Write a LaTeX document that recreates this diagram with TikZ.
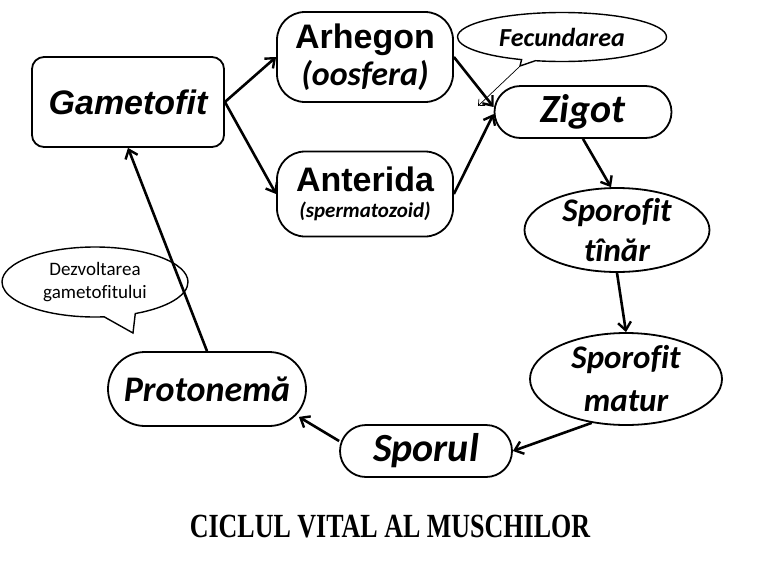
\documentclass[tikz,border=0pt]{standalone}
\usepackage{graphicx}
\usepackage{fontspec}
\setmainfont{Carlito}[Ligatures=CommonOff]
\newfontfamily\arialfont{Liberation Sans}
\newfontfamily\titlefont{Liberation Serif}
\usetikzlibrary{shapes.geometric,shapes.callouts,arrows.meta}
\tikzset{
  stage/.style={draw, line width=1.8pt, inner sep=0pt, align=center},
  oval/.style={stage, ellipse},
  bubble/.style={draw, line width=1.4pt, ellipse callout, inner sep=0pt, align=center},
  cyc/.style={line width=2.6pt, -{Straight Barb[length=8pt,width=13pt,line width=2.4pt]}},
}
\begin{document}
\begin{tikzpicture}[x=1pt,y=-1pt]
                    \fill[white] (0,0) rectangle (768,576);
                    \useasboundingbox (0,0) rectangle (768,576);
                    % stages of the cycle
                    \node[stage, rounded corners=12pt, minimum width=192pt, minimum height=90pt, font=\arialfont\bfseries\itshape\fontsize{34}{38}\selectfont] (gam) at (128,102) {Gametofit};
                    \node[stage, rounded corners=28pt, minimum width=176pt, minimum height=90pt, font=\fontsize{34}{38}\selectfont] (arh) at (365,57) {{\arialfont\bfseries Arhegon}\\[-1pt]{\bfseries\itshape (oosfera)}};
                    \node[stage, rounded corners=28pt, minimum width=176pt, minimum height=85pt, font=\fontsize{21}{26}\selectfont] (ant) at (365,194) {{\arialfont\bfseries\fontsize{34}{34}\selectfont Anterida}\\{\bfseries\itshape (spermatozoid)}};
                    \node[stage, rounded corners=26pt, minimum width=177pt, minimum height=52pt, font=\bfseries\itshape\fontsize{40}{40}\selectfont] (zig) at (583,112) {Zigot};
                    \node[oval, minimum width=185pt, minimum height=84pt, label={[font=\bfseries\itshape\fontsize{33}{40}\selectfont, align=center]center:Sporofit\\t\^{\i}n\u{a}r}] (spt) at (617,230) {};
                    \node[oval, minimum width=192pt, minimum height=92pt, label={[font=\bfseries\itshape\fontsize{33}{43}\selectfont, align=center]center:Sporofit\\matur}] (spm) at (626,379) {};
                    \node[stage, rounded corners=26pt, minimum width=172pt, minimum height=52pt, font=\bfseries\itshape\fontsize{40}{40}\selectfont] (spo) at (426,451) {Sporul};
                    \node[stage, rounded corners=37pt, minimum width=198pt, minimum height=74pt, font=\bfseries\itshape\fontsize{36}{38}\selectfont] (pro) at (207,389) {Protonem\u{a}};
                    % callouts
                    \coordinate (fectip) at (478,106);
                    \node[bubble, minimum width=209pt, minimum height=49pt, callout absolute pointer={(520,66)}, callout pointer arc=8, font=\bfseries\itshape\fontsize{26}{28}\selectfont] (fec) at (562,37) {Fecundarea};
                    \draw[line width=0.7pt, -{Straight Barb[length=5pt,width=9pt]}] (fec.pointer) -- (fectip);
                    \node[bubble, minimum width=186pt, minimum height=70pt, callout absolute pointer={(133,333)}, callout pointer arc=20, font=\fontsize{19}{23}\selectfont] (dez) at (95,282) {Dezvoltarea\\gametofitului};
                    % arrows
                    \draw[cyc] (gam.east) -- (arh.west);
                    \draw[cyc] (gam.east) -- (ant.west);
                    \draw[cyc] (arh.east) -- ([yshift=5pt]zig.west);
                    \draw[cyc] (ant.east) -- ([yshift=-2pt]zig.west);
                    \draw[cyc] (zig.south) -- (spt.98);
                    \draw[cyc] (spt.south) -- (spm.north);
                    \draw[cyc] (spm.232) -- (spo.east);
                    \draw[cyc] ([yshift=10pt]spo.west) -- ([xshift=-8pt,yshift=10pt]pro.south east);
                    \draw[cyc] (pro.north) -- (gam.south);
                    % title
                    \node[font=\titlefont\bfseries\fontsize{26}{30}\selectfont] (title) at (390,527) {\scalebox{1}[1.3]{CICLUL VITAL AL MUSCHILOR}};
\end{tikzpicture}
\end{document}
